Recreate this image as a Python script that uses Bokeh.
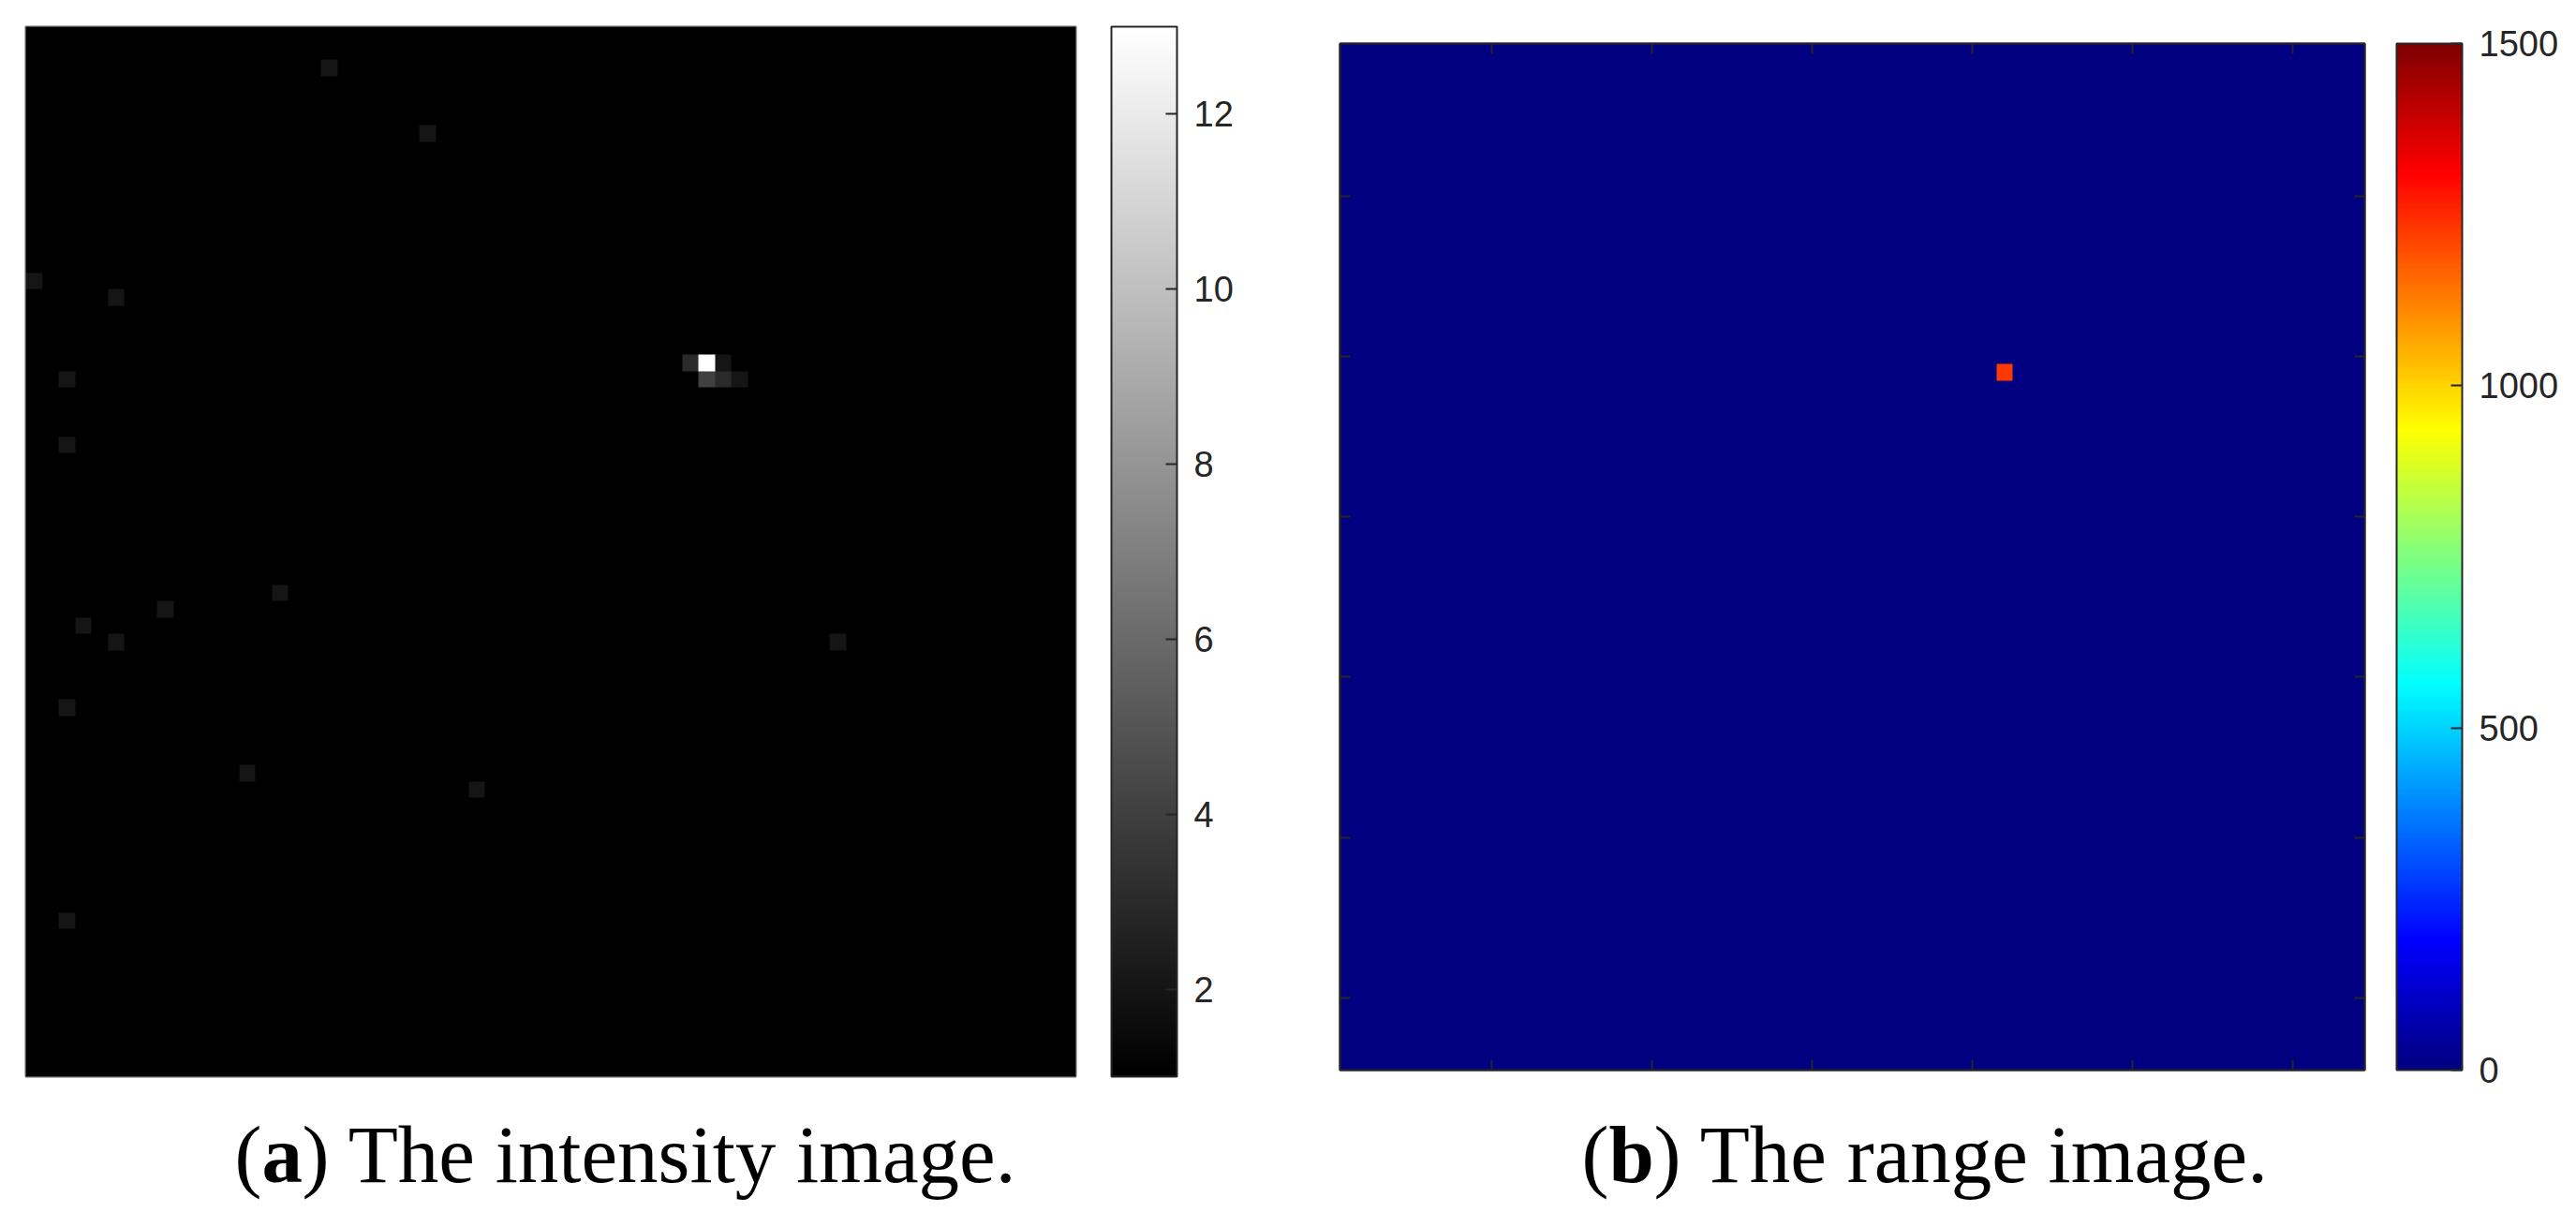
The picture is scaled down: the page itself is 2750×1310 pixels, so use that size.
import numpy as np
from bokeh.plotting import figure
from bokeh.models import LinearColorMapper, ColorBar, FixedTicker, LinearAxis, Range1d, Spacer
from bokeh.layouts import row, column
from bokeh.embed import file_html
from bokeh.resources import INLINE
from bokeh.core.properties import value

# ---------------- data ----------------
GRID_SIZE = 64

# intensity image: background value 1, sparse returns (0-based row from top, col from left)
intensity_background = 1
intensity_rows = [2, 6, 15, 16, 21, 25, 34, 35, 36, 37, 37, 41, 45, 46, 54, 20, 20, 20, 21, 21, 21]
intensity_cols = [18, 24, 0, 5, 2, 2, 15, 8, 3, 5, 49, 2, 13, 27, 2, 40, 41, 42, 41, 42, 43]
intensity_vals = [2, 2, 2, 2, 2, 2, 2, 2, 2, 2, 2, 2, 2, 2, 2, 3, 13, 2, 4, 3, 2]
intensity_low, intensity_high = 1, 13
intensity_ticks = [2, 4, 6, 8, 10, 12]

# range image: background 0, one return
range_background = 0
range_rows = [20]
range_cols = [41]
range_vals = [1225]
range_low, range_high = 0, 1500
range_ticks = [0, 500, 1000, 1500]

axis_ticks = [10, 20, 30, 40, 50, 60]

caption_open = ["(", "("]
caption_letter = ["a", "b"]
caption_rest = [") The intensity image.", ") The range image."]


def build_image(rows, cols, vals, bg):
    a = np.full((GRID_SIZE, GRID_SIZE), float(bg))
    for r, c, v in zip(rows, cols, vals):
        a[r, c] = v
    # row 0 is the top row of the picture; bokeh draws row 0 at the bottom
    return np.flipud(a)


def jet_palette(n=256):
    pal = []
    for i in range(n):
        t = i / (n - 1)
        r = min(max(1.5 - abs(4 * t - 3), 0), 1)
        g = min(max(1.5 - abs(4 * t - 2), 0), 1)
        b = min(max(1.5 - abs(4 * t - 1), 0), 1)
        pal.append("#%02x%02x%02x" % (round(r * 255), round(g * 255), round(b * 255)))
    return pal


gray_palette = ["#%02x%02x%02x" % (i, i, i) for i in range(256)]

img1 = build_image(intensity_rows, intensity_cols, intensity_vals, intensity_background)
img2 = build_image(range_rows, range_cols, range_vals, range_background)

DARK = "#262626"
TOP_B = 28      # top border of both plots
BOT_B = 26      # bottom border of both plots
P2_SHIFT = 18   # panel (b) sits a little lower


def make_colorbar(mapper, ticks, height, xoff):
    return ColorBar(
        color_mapper=mapper,
        ticker=FixedTicker(ticks=ticks),
        width=70,
        height=height,
        location=(xoff, 0),
        padding=0,
        margin=0,
        label_standoff=18,
        major_tick_in=12,
        major_tick_out=0,
        major_tick_line_color=DARK,
        major_tick_line_width=2,
        minor_tick_line_color=None,
        bar_line_color=DARK,
        bar_line_width=2,
        border_line_color=None,
        background_fill_color=None,
        major_label_text_font="Liberation Sans",
        major_label_text_font_size="38px",
        major_label_text_color=DARK,
    )


# ---------------- panel (a) ----------------
m1 = LinearColorMapper(palette=gray_palette, low=intensity_low, high=intensity_high)
p1 = figure(
    frame_width=1121, frame_height=1121,
    min_border_left=27, min_border_top=TOP_B, min_border_bottom=BOT_B,
    min_border_right=1380 - 27 - 1121,
    x_range=Range1d(0.5, GRID_SIZE + 0.5), y_range=Range1d(0.5, GRID_SIZE + 0.5),
    x_axis_type=None, y_axis_type=None,
    toolbar_location=None, output_backend="svg",
)
p1.outline_line_color = "#666666"
p1.outline_line_width = 2
p1.image(image=[img1], x=0.5, y=0.5, dw=GRID_SIZE, dh=GRID_SIZE, color_mapper=m1)
p1.add_layout(make_colorbar(m1, intensity_ticks, 1121, 1159))

# ---------------- panel (b) ----------------
m2 = LinearColorMapper(palette=jet_palette(256), low=range_low, high=range_high)
p2 = figure(
    frame_width=1094, frame_height=1096,
    min_border_left=50, min_border_top=TOP_B, min_border_bottom=BOT_B,
    min_border_right=1370 - 50 - 1094,
    x_range=Range1d(0.5, GRID_SIZE + 0.5), y_range=Range1d(0.5, GRID_SIZE + 0.5),
    toolbar_location=None, output_backend="svg",
)
p2.grid.visible = False
p2.outline_line_color = DARK
p2.outline_line_width = 2
p2.image(image=[img2], x=0.5, y=0.5, dw=GRID_SIZE, dh=GRID_SIZE, color_mapper=m2)

# y ticks counted from the top row (image rows 10..60)
y_tick_pos = [GRID_SIZE + 1 - t for t in axis_ticks]


def style_axis(ax, ticks):
    ax.ticker = FixedTicker(ticks=ticks)
    ax.axis_label = None
    ax.major_label_text_color = None   # tick marks only, no tick labels
    ax.major_label_standoff = 0
    ax.major_tick_in = 11
    ax.major_tick_out = 0
    ax.minor_tick_in = 0
    ax.minor_tick_out = 0
    ax.major_tick_line_color = DARK
    ax.major_tick_line_width = 2
    ax.axis_line_color = DARK
    ax.axis_line_width = 2


style_axis(p2.xaxis[0], axis_ticks)
style_axis(p2.yaxis[0], y_tick_pos)
top_ax = LinearAxis()
style_axis(top_ax, axis_ticks)
p2.add_layout(top_ax, "above")
right_ax = LinearAxis()
style_axis(right_ax, y_tick_pos)
p2.add_layout(right_ax, "right")
p2.add_layout(make_colorbar(m2, range_ticks, 1096, 1128))

right_col = column(Spacer(width=1370, height=P2_SHIFT), p2)
panels = row(p1, right_col)
ROW_H = TOP_B + 1121 + BOT_B   # 1175

# ---------------- captions ----------------
CAP_W, CAP_H = 2750, 1308 - ROW_H
cap = figure(
    frame_width=CAP_W, frame_height=CAP_H,
    min_border_left=0, min_border_right=0, min_border_top=0, min_border_bottom=0,
    x_range=Range1d(0, CAP_W), y_range=Range1d(0, CAP_H),
    x_axis_type=None, y_axis_type=None,
    toolbar_location=None, output_backend="svg",
)
cap.outline_line_color = None
base_y = CAP_H - (1232 - ROW_H)
serif = value("Liberation Serif")
common = dict(text_font=serif, text_font_size="87px", text_color="black",
              text_baseline="alphabetic", text_align="left")
cap.text(x=[250, 1688], y=[base_y, base_y], text=caption_open, **common)
cap.text(x=[279, 1717], y=[base_y, base_y], text=caption_letter, text_font_style="bold", **common)
cap.text(x=[322, 1765], y=[base_y, base_y], text=caption_rest, **common)

layout = column(panels, cap)
open("out.html", "w").write(file_html(layout, INLINE))
